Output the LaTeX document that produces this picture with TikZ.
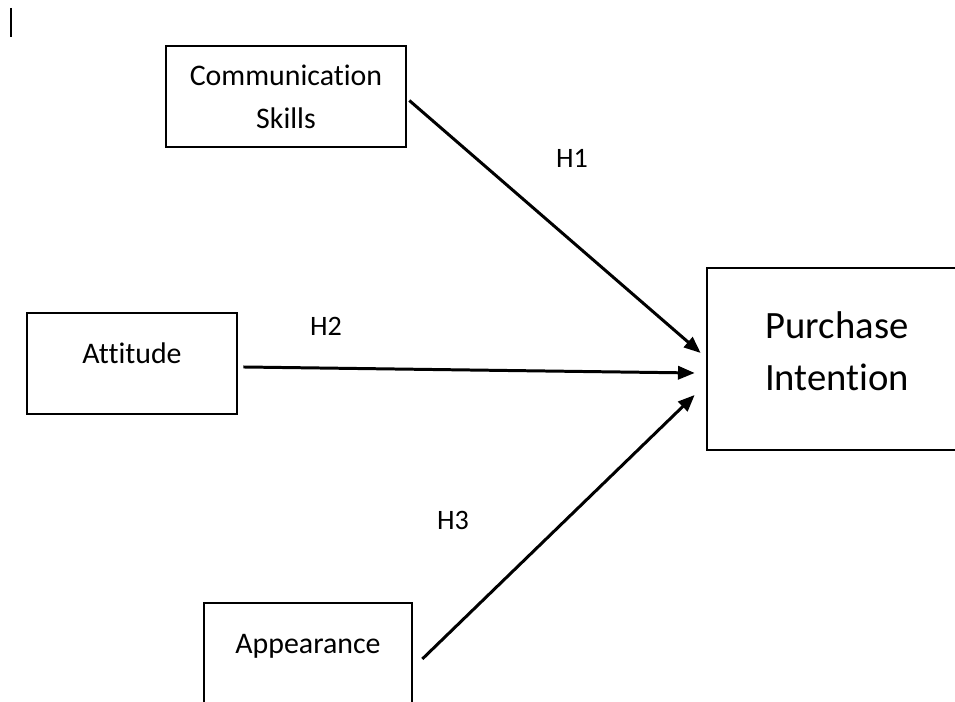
\documentclass[tikz,border=0pt]{standalone}
\usepackage{fontspec}
\setmainfont{Carlito}[Ligatures=NoCommon]
\usetikzlibrary{arrows.meta}
\begin{document}
\begin{tikzpicture}[
	box/.style={draw, line width=1.5pt, align=center, font=\fontsize{17}{24.5}\selectfont},
	onebox/.style={box, text height=0.35cm, text depth=0.35cm},
	arr/.style={line width=1.7pt, -{Triangle[length=9.5pt,width=7.5pt]}},
	hyp/.style={font=\fontsize{16}{19}\selectfont}]
	\useasboundingbox (0,0) rectangle (19.1,14.04);
	\clip (0,0) rectangle (19.1,14.04);
	\draw [line width=0.6pt] (0.22,13.88) -- (0.22,13.30);
	\node[box, minimum width=4.8cm, minimum height=2.02cm] (skills) at (5.72,12.11) {Communication\\Skills};
	\node[onebox, minimum width=4.2cm, minimum height=2.02cm] (attitude) at (2.64,6.77) {Attitude};
	\node[onebox, minimum width=4.16cm, minimum height=2.02cm] (appear) at (6.16,0.97) {Appearance};
	\node[box, minimum width=5.2cm, minimum height=3.64cm, font=\fontsize{22}{29.6}\selectfont] (intent) at (16.74,6.86) {Purchase\\Intention\rule[-0.32cm]{0pt}{0pt}};
	\draw[arr] ([xshift=0.04cm,yshift=-0.08cm]skills.east) -- ([xshift=-0.1cm,yshift=0.12cm]intent.west);
	\draw[arr] ([xshift=0.1cm,yshift=-0.07cm]attitude.east) -- ([xshift=-0.22cm,yshift=-0.28cm]intent.west);
	\draw[arr] ([xshift=0.18cm,yshift=-0.11cm]appear.east) -- ([xshift=-0.22cm,yshift=-0.72cm]intent.west);
	\node[hyp] (h1) at (11.44,10.88) {H1};
	\node[hyp] (h2) at (6.52,7.52) {H2};
	\node[hyp] (h3) at (9.06,3.64) {H3};
\end{tikzpicture}
\end{document}
